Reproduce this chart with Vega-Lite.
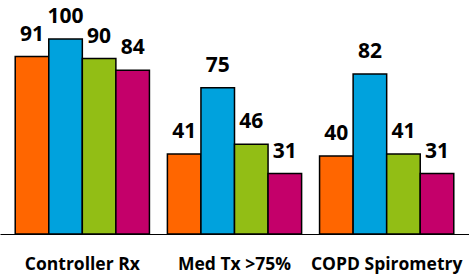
{
  "$schema": "https://vega.github.io/schema/vega-lite/v6.json",
  "width": 469,
  "height": 234,
  "padding": {"top": 0, "left": 0, "right": 0, "bottom": 44},
  "autosize": {"type": "none"},
  "config": {"view": {"stroke": null}},
  "data": {"values": [
    {"cat": "Controller Rx", "series": "A", "value": 91},
    {"cat": "Controller Rx", "series": "B", "value": 100},
    {"cat": "Controller Rx", "series": "C", "value": 90},
    {"cat": "Controller Rx", "series": "D", "value": 84},
    {"cat": "Med Tx >75%", "series": "A", "value": 41},
    {"cat": "Med Tx >75%", "series": "B", "value": 75},
    {"cat": "Med Tx >75%", "series": "C", "value": 46},
    {"cat": "Med Tx >75%", "series": "D", "value": 31},
    {"cat": "COPD Spirometry", "series": "A", "value": 40},
    {"cat": "COPD Spirometry", "series": "B", "value": 82},
    {"cat": "COPD Spirometry", "series": "C", "value": 41},
    {"cat": "COPD Spirometry", "series": "D", "value": 31}
  ]},
  "encoding": {
    "x": {"field": "cat", "type": "nominal", "sort": null,
      "scale": {"paddingInner": 0.118, "paddingOuter": 0.1},
      "axis": {"title": null, "labelAngle": 0, "ticks": false, "domainColor": "#000000", "domainWidth": 1,
        "labelFont": "Open Sans", "labelFontWeight": "bold", "labelFontSize": 17.5, "labelColor": "#000000",
        "labelPadding": 21, "labelOverlap": false, "labelBound": false}},
    "xOffset": {"field": "series", "type": "nominal", "scale": {"paddingInner": 0, "paddingOuter": 0}},
    "y": {"field": "value", "type": "quantitative", "scale": {"domain": [0, 120]}, "axis": null}
  },
  "layer": [
    {"mark": {"type": "bar", "stroke": "#000000", "strokeWidth": 1.5},
     "encoding": {"color": {"field": "series", "type": "nominal", "legend": null,
       "scale": {"domain": ["A", "B", "C", "D"], "range": ["#ff6600", "#00a2dd", "#92be15", "#c4006a"]}}}},
    {"mark": {"type": "text", "dy": -16, "baseline": "alphabetic", "font": "Open Sans", "fontWeight": "bold", "fontSize": 21, "color": "#000000"},
     "encoding": {"text": {"field": "value", "type": "quantitative"}}}
  ]
}
